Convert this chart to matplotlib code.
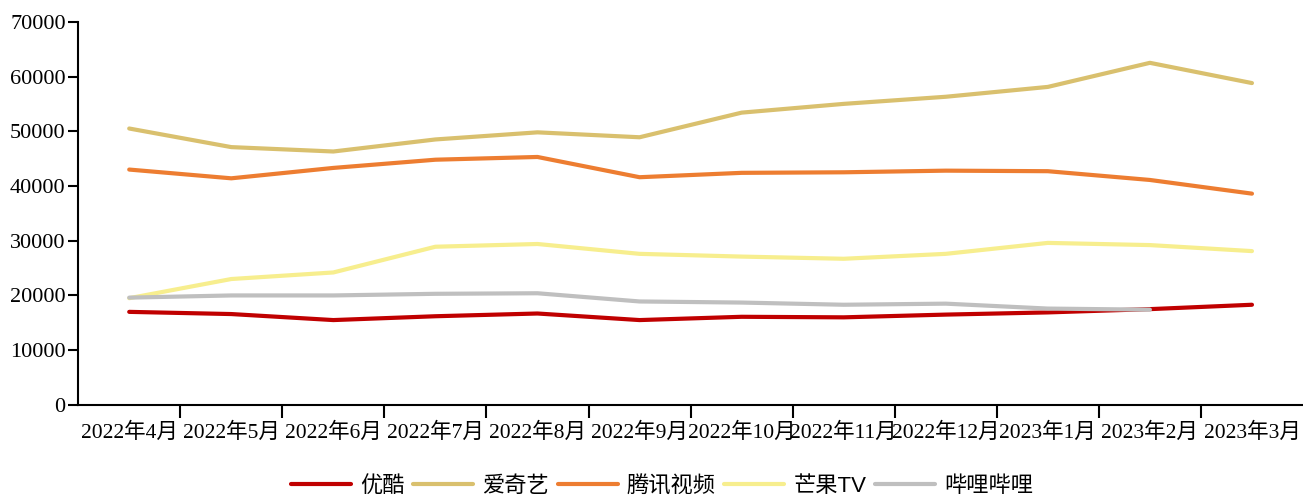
import matplotlib
matplotlib.use('Agg')
import matplotlib.pyplot as plt
import numpy as np

# 月份与各平台数据
months = ['2022年4月', '2022年5月', '2022年6月', '2022年7月', '2022年8月', '2022年9月',
          '2022年10月', '2022年11月', '2022年12月', '2023年1月', '2023年2月', '2023年3月']
youku = [17000, 16600, 15500, 16200, 16700, 15500, 16100, 16000, 16500, 16900, 17500, 18300]
iqiyi = [50500, 47100, 46300, 48500, 49800, 48900, 53400, 55000, 56300, 58100, 62500, 58800]
tencent = [43000, 41400, 43300, 44800, 45300, 41600, 42400, 42500, 42800, 42700, 41100, 38600]
mango = [19500, 23000, 24200, 28900, 29400, 27600, 27100, 26700, 27600, 29600, 29200, 28100]
bilibili = [19600, 20000, 20000, 20300, 20400, 18900, 18700, 18300, 18500, 17600, 17400]

series_names = ['优酷', '爱奇艺', '腾讯视频', '芒果TV', '哔哩哔哩']
series_vals = [youku, iqiyi, tencent, mango, bilibili]
colors = ['#C00000', '#D9C06E', '#ED7D31', '#F7EE8E', '#BFBFBF']

serif_cjk = ['Liberation Serif', 'Noto Sans CJK SC']
sans_cjk = ['Liberation Sans', 'Noto Sans CJK SC']


def main():
    fig = plt.figure(figsize=(13.03, 4.95), dpi=100)
    ax = fig.add_axes([0.06, 0.182, 0.94, 0.774])

    for name, vals, c in zip(series_names, series_vals, colors):
        ax.plot(np.arange(len(vals)), vals, color=c, linewidth=3, label=name,
                solid_capstyle='round')

    # 坐标轴设置
    ax.set_xlim(-0.5, len(months) - 0.5)
    ax.set_ylim(0, 70000)
    ax.set_yticks(range(0, 70001, 10000))
    ax.set_xticks(np.arange(len(months)))
    ax.set_xticklabels(months, fontfamily=serif_cjk, fontsize=15.5)
    ax.tick_params(axis='x', which='major', length=0, pad=13)
    ax.set_xticks(np.arange(0.5, len(months) - 1), minor=True)
    ax.tick_params(axis='x', which='minor', length=9, width=1.5, direction='out')
    ax.tick_params(axis='y', length=7, width=1.5, direction='out', pad=2)
    for lab in ax.get_yticklabels():
        lab.set_fontfamily(serif_cjk)
        lab.set_fontsize(16)

    for s in ['top', 'right']:
        ax.spines[s].set_visible(False)
    for s in ['left', 'bottom']:
        ax.spines[s].set_linewidth(1.5)

    # 图例放在底部
    fig.legend(loc='lower center', bbox_to_anchor=(0.508, -0.045), ncol=5,
               frameon=False, prop={'family': sans_cjk, 'size': 16},
               handlelength=2.7, handletextpad=0.4, columnspacing=0.4)

    plt.savefig('out.png', dpi=100)


if __name__ == "__main__":
    main()
